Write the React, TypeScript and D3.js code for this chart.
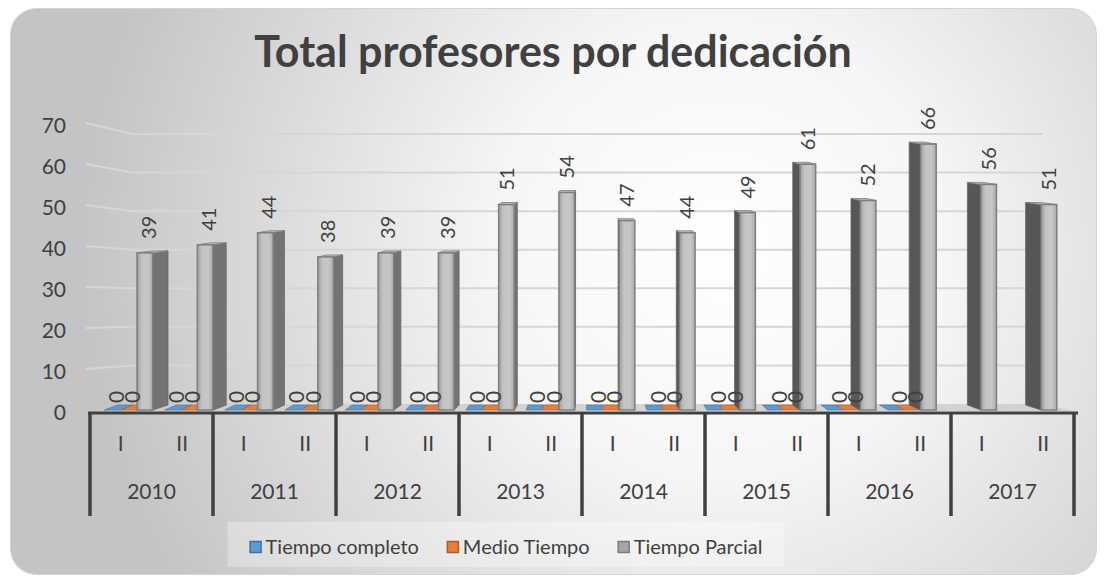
import React, { useEffect, useRef } from 'react'
import * as d3 from 'd3'

const years = ['2010', '2011', '2012', '2013', '2014', '2015', '2016', '2017']
const semesters = ['I', 'II']
const seriesNames = ['Tiempo completo', 'Medio Tiempo', 'Tiempo Parcial']
const seriesColors = ['#5b9bd5', '#ed7d31', '#a5a5a5']
const seriesStrokes = ['#41719c', '#ae5a21', '#7b7b7b']
const tiempoCompleto = [0, 0, 0, 0, 0, 0, 0, 0, 0, 0, 0, 0, 0, 0, null, null]
const medioTiempo = [0, 0, 0, 0, 0, 0, 0, 0, 0, 0, 0, 0, 0, 0, null, null]
const tiempoParcial = [39, 41, 44, 38, 39, 39, 51, 54, 47, 44, 49, 61, 52, 66, 56, 51]
const yTicks = [0, 10, 20, 30, 40, 50, 60, 70]

const W = 1107
const H = 580
const FONT = 'Lato, "Open Sans", sans-serif'
const TXT = '#404040'

export default function App() {
  const svgRef = useRef<SVGSVGElement>(null)

  useEffect(() => {
    const svg = d3.select(svgRef.current)
    svg.selectAll('*').remove() // start clean

    const defs = svg.append('defs')
    const bg = defs
      .append('radialGradient')
      .attr('id', 'bg')
      .attr('gradientUnits', 'userSpaceOnUse')
      .attr('cx', 720)
      .attr('cy', 250)
      .attr('r', 640)
    bg.append('stop').attr('offset', 0).attr('stop-color', '#ffffff')
    bg.append('stop').attr('offset', 0.35).attr('stop-color', '#f6f6f6')
    bg.append('stop').attr('offset', 1).attr('stop-color', '#c4c4c4')

    const fg = defs.append('linearGradient').attr('id', 'front').attr('x1', 0).attr('x2', 1)
    fg.append('stop').attr('offset', 0).attr('stop-color', '#9e9e9e')
    fg.append('stop').attr('offset', 0.3).attr('stop-color', '#c3c3c3')
    fg.append('stop').attr('offset', 0.7).attr('stop-color', '#c6c6c6')
    fg.append('stop').attr('offset', 1).attr('stop-color', '#aaaaaa')

    // chart area
    svg
      .append('rect')
      .attr('x', 10.5)
      .attr('y', 8.5)
      .attr('width', 1086)
      .attr('height', 566)
      .attr('rx', 26)
      .attr('fill', 'url(#bg)')
      .attr('stroke', '#d4d4d4')

    svg
      .append('text')
      .attr('x', 553)
      .attr('y', 67)
      .attr('text-anchor', 'middle')
      .attr('font-family', FONT)
      .attr('font-weight', 'bold')
      .attr('font-size', 43)
      .attr('fill', TXT)
      .text('Total profesores por dedicación')

    // scales
    const x0 = d3.scaleBand().domain(years).range([90, 1074])
    const x1 = d3.scaleBand().domain(semesters).range([0, x0.bandwidth()])
    const xs = d3.scaleBand<number>().domain([0, 1, 2]).range([4, x1.bandwidth() - 7.5])
    const yFront = d3.scaleLinear().domain([0, 70]).range([410, 128])
    const yBack = d3.scaleLinear().domain([0, 70]).range([404, 134])
    const yLabel = d3.scaleLinear().domain([0, 70]).range([413, 126])

    const VP = 595
    const proj = (x: number) => VP + 0.98 * (x - VP)
    const depth = (x: number) => (VP - x) * 0.034
    const backL = proj(x0.range()[0]) + 32
    const backR = proj(x0.range()[1]) - 22

    // floor
    svg
      .append('path')
      .attr(
        'd',
        `M${x0.range()[0]},${yFront(0) + 1}L${x0.range()[1]},${yFront(0) + 1}L${backR},${yBack(0)}L${backL},${yBack(0)}Z`
      )
      .attr('fill', '#cbcbcb')
      .attr('opacity', 0.8)

    // gridlines on the back wall
    svg
      .append('g')
      .selectAll('path')
      .data(yTicks.filter((v) => v > 0))
      .enter()
      .append('path')
      .attr('d', (v) => `M86,${yLabel(v) - 3}L${backL},${yBack(v)}L${backR},${yBack(v)}`)
      .attr('fill', 'none')
      .attr('stroke', '#d6d6d6')
      .attr('stroke-width', 2)

    // y labels
    svg
      .append('g')
      .selectAll('text')
      .data(yTicks)
      .enter()
      .append('text')
      .attr('x', 66)
      .attr('y', (v) => yLabel(v))
      .attr('dy', '0.35em')
      .attr('text-anchor', 'end')
      .attr('font-family', FONT)
      .attr('font-size', 21)
      .attr('fill', TXT)
      .text((v) => v)

    const slots = years.flatMap((y, i) => semesters.map((s, j) => ({ year: y, sem: s, idx: i * 2 + j })))
    const seriesData = [tiempoCompleto, medioTiempo, tiempoParcial]
    const center = (slot: { year: string; sem: string }, k: number) =>
      proj(x0(slot.year)! + x1(slot.sem)! + xs(k)! + xs.bandwidth() / 2)
    const half = xs.bandwidth() / 2 - 0.5

    // flat bars (zero values) on the floor
    const flat = svg.append('g')
    ;[0, 1].forEach((k) => {
      slots.forEach((slot) => {
        const v = seriesData[k][slot.idx]
        if (v == null) return
        const c = center(slot, k)
        const d = depth(c) * 0.8
        const yf = yFront(0)
        const yb = yf - 5
        flat
          .append('path')
          .attr('d', `M${c - half},${yf}L${c + half},${yf}L${c + half + d},${yb}L${c - half + d},${yb}Z`)
          .attr('fill', seriesColors[k])
          .attr('stroke', seriesStrokes[k])
          .attr('stroke-width', 0.6)
      })
    })

    // 3d bars for Tiempo Parcial
    const bars = svg.append('g')
    slots.forEach((slot) => {
      const v = tiempoParcial[slot.idx]
      if (v == null) return
      const c = center(slot, 2)
      const d = depth(c)
      const top = yFront(v)
      const bot = yFront(0)
      const edge = d > 0 ? c + half : c - half
      const g = bars.append('g')
      g.append('path')
        .attr('d', `M${edge},${top}L${edge + d},${top - 2}L${edge + d},${bot - 5}L${edge},${bot}Z`)
        .attr('fill', d > 0 ? '#737373' : '#575757')
        .attr('stroke', '#666')
        .attr('stroke-width', 0.8)
      g.append('path')
        .attr('d', `M${c - half},${top}L${c + half},${top}L${c + half + d},${top - 2}L${c - half + d},${top - 2}Z`)
        .attr('fill', '#bdbdbd')
        .attr('stroke', '#7f7f7f')
        .attr('stroke-width', 0.8)
      g.append('rect')
        .attr('x', c - half)
        .attr('y', top)
        .attr('width', half * 2)
        .attr('height', bot - top)
        .attr('fill', 'url(#front)')
        .attr('stroke', '#7f7f7f')
        .attr('stroke-width', 1.5)
      g.append('text')
        .attr('transform', `translate(${c + (d > 0 ? d * 0.3 : 0)},${top - 14}) rotate(-90)`)
        .attr('dy', '0.35em')
        .attr('font-family', FONT)
        .attr('font-size', 20)
        .attr('fill', TXT)
        .text(v)
    })

    // zero labels
    const zeros = svg.append('g')
    ;[0, 1].forEach((k) => {
      slots.forEach((slot) => {
        const v = seriesData[k][slot.idx]
        if (v == null) return
        const c = center(slot, k) + 4
        zeros
          .append('text')
          .attr('transform', `translate(${c},${yFront(0) - 13}) rotate(-90)`)
          .attr('dy', '0.35em')
          .attr('text-anchor', 'middle')
          .attr('font-family', FONT)
          .attr('font-size', 21)
          .attr('fill', TXT)
          .text(v)
      })
    })

    // category axis
    const axis = svg.append('g')
    axis
      .append('line')
      .attr('x1', 88)
      .attr('x2', 1078)
      .attr('y1', 413)
      .attr('y2', 413)
      .attr('stroke', TXT)
      .attr('stroke-width', 3)
    const dividers = years.map((y) => x0(y)!).concat([x0.range()[1]])
    axis
      .selectAll('line.div')
      .data(dividers)
      .enter()
      .append('line')
      .attr('class', 'div')
      .attr('x1', (x) => x)
      .attr('x2', (x) => x)
      .attr('y1', 412)
      .attr('y2', 516)
      .attr('stroke', TXT)
      .attr('stroke-width', 3.5)
    axis
      .selectAll('text.sem')
      .data(slots)
      .enter()
      .append('text')
      .attr('class', 'sem')
      .attr('x', (s) => x0(s.year)! + x1(s.sem)! + x1.bandwidth() / 2)
      .attr('y', 444)
      .attr('dy', '0.35em')
      .attr('text-anchor', 'middle')
      .attr('font-family', FONT)
      .attr('font-size', 21)
      .attr('fill', TXT)
      .text((s) => s.sem)
    axis
      .selectAll('text.year')
      .data(years)
      .enter()
      .append('text')
      .attr('class', 'year')
      .attr('x', (y) => x0(y)! + x0.bandwidth() / 2)
      .attr('y', 492)
      .attr('dy', '0.35em')
      .attr('text-anchor', 'middle')
      .attr('font-family', FONT)
      .attr('font-size', 21)
      .attr('fill', TXT)
      .text((y) => y)

    // legend
    const legendBg = svg.append('rect')
    const legend = svg.append('g')
    let lx = 0
    seriesNames.forEach((name, k) => {
      legend
        .append('rect')
        .attr('x', lx + 0.5)
        .attr('y', 541.5)
        .attr('width', 11)
        .attr('height', 11)
        .attr('fill', seriesColors[k])
        .attr('stroke', seriesStrokes[k])
        .attr('stroke-width', 1.5)
      const t = legend
        .append('text')
        .attr('x', lx + 16)
        .attr('y', 547)
        .attr('dy', '0.35em')
        .attr('font-family', FONT)
        .attr('font-size', 20)
        .attr('fill', TXT)
        .text(name)
      const w = (t.node() as SVGTextElement).getComputedTextLength()
      lx += 16 + w + (k < seriesNames.length - 1 ? 28 : 0)
    })
    const lx0 = 506 - lx / 2
    legend.attr('transform', `translate(${lx0},0)`)
    legendBg
      .attr('x', lx0 - 22)
      .attr('y', 522)
      .attr('width', lx + 44)
      .attr('height', 45)
      .attr('fill', '#ffffff')
      .attr('opacity', 0.3)
  }, [])

  return (
    <svg
      ref={svgRef}
      width={W}
      height={H}
      style={{ position: 'absolute', left: 0, top: 0, display: 'block' }}
    ></svg>
  )
}
